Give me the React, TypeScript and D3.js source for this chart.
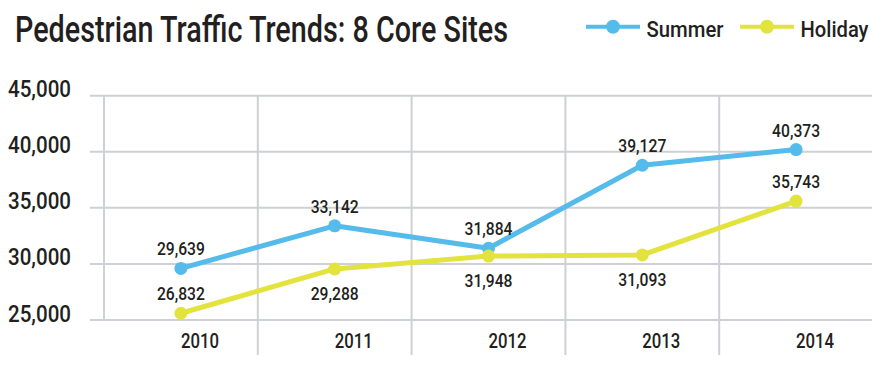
import * as d3 from 'd3'

const years = ['2010', '2011', '2012', '2013', '2014']
// plotted positions
const summerValues = [29600, 33400, 31400, 38800, 40200]
const holidayValues = [25600, 29550, 30700, 30800, 35600]
// printed labels
const summerLabels = ['29,639', '33,142', '31,884', '39,127', '40,373']
const holidayLabels = ['26,832', '29,288', '31,948', '31,093', '35,743']
const holidayLabelSide = ['above', 'below', 'below', 'below', 'above']
const yTicks = [25000, 30000, 35000, 40000, 45000]

const W = 884
const H = 370
const FONT = 'Roboto, "DejaVu Sans Condensed", sans-serif'
const INK = '#231f20'
const GRID = '#cdd0d4'
const BLUE = '#55bbea'
const YELLOW = '#e3e33e'

export default function App() {
  const x = d3.scaleBand().domain(years).range([104, 873])
  const y = d3.scaleLinear().domain([25000, 45000]).range([320, 95.7])
  const cx = (yr: string) => (x(yr) ?? 0) + x.bandwidth() / 2
  const fmt = d3.format(',')

  const line = d3
    .line<number>()
    .x((_, i) => cx(years[i]))
    .y((d) => y(d))

  const series = [
    { name: 'Summer', values: summerValues, labels: summerLabels, color: BLUE, sides: years.map(() => 'above') },
    { name: 'Holiday', values: holidayValues, labels: holidayLabels, color: YELLOW, sides: holidayLabelSide },
  ]

  return (
    <svg width={W} height={H} style={{ position: 'absolute', left: 0, top: 0, background: '#fff' }} fontFamily={FONT}>
      <text x={15} y={41.7} fontSize={37.5} fontWeight={500} fill={INK} textLength={493} lengthAdjust="spacingAndGlyphs">
        Pedestrian Traffic Trends: 8 Core Sites
      </text>

      {/* legend */}
      {series.map((s, i) => {
        const lx = i === 0 ? 586 : 740
        return (
          <g key={s.name}>
            <line x1={lx} x2={lx + 54} y1={26.7} y2={26.7} stroke={s.color} strokeWidth={4} />
            <circle cx={lx + 27} cy={26.7} r={7} fill={s.color} />
            <text x={lx + 60.5} y={36.7} fontSize={22.5} fontWeight={500} fill={INK} textLength={77 - i * 9} lengthAdjust="spacingAndGlyphs">
              {s.name}
            </text>
          </g>
        )
      })}

      {/* grid */}
      {yTicks.map((t) => (
        <g key={t}>
          <line x1={90} x2={872} y1={y(t)} y2={y(t)} stroke={GRID} strokeWidth={2} />
          <text x={71} y={y(t) + 1.5} textAnchor="end" fontSize={24} fontWeight={500} fill={INK} textLength={63} lengthAdjust="spacingAndGlyphs">
            {fmt(t)}
          </text>
        </g>
      ))}
      {years.map((yr, i) => (
        <line
          key={yr}
          x1={x(yr) ?? 0}
          x2={x(yr) ?? 0}
          y1={y(45000)}
          y2={i === 0 ? y(25000) : 355}
          stroke={GRID}
          strokeWidth={2}
        />
      ))}

      {/* x labels */}
      {years.map((yr) => (
        <text key={yr} x={cx(yr)} y={348} fontSize={21} fontWeight={500} fill={INK} textLength={38} lengthAdjust="spacingAndGlyphs">
          {yr}
        </text>
      ))}

      {/* series */}
      {series.map((s) => (
        <g key={s.name}>
          <path d={line(s.values) ?? ''} fill="none" stroke={s.color} strokeWidth={5} strokeLinejoin="round" />
          {s.values.map((v, i) => (
            <circle key={i} cx={cx(years[i])} cy={y(v)} r={6.5} fill={s.color} />
          ))}
          {s.values.map((v, i) => (
            <text
              key={'l' + i}
              x={cx(years[i])}
              y={s.sides[i] === 'above' ? y(v) - 13 : y(v) + 31}
              textAnchor="middle"
              fontSize={19}
              fontWeight={500}
              fill={INK}
              textLength={48}
              lengthAdjust="spacingAndGlyphs"
            >
              {s.labels[i]}
            </text>
          ))}
        </g>
      ))}
    </svg>
  )
}
